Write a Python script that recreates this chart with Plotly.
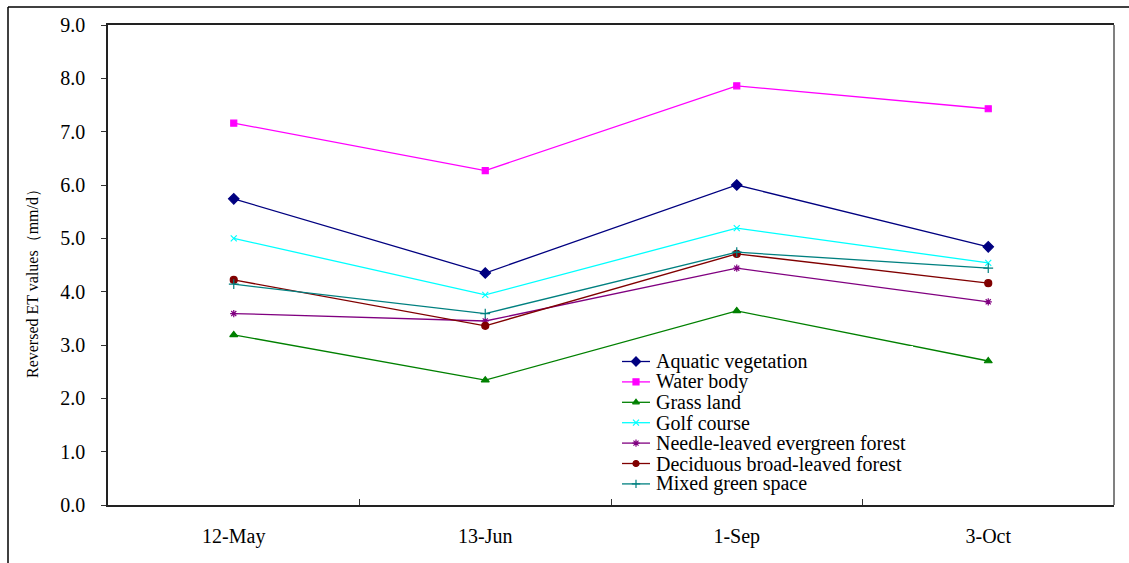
import plotly.graph_objects as go

dates = ["12-May", "13-Jun", "1-Sep", "3-Oct"]
aquatic = [5.74, 4.35, 6.00, 4.84]
water = [7.16, 6.27, 7.86, 7.43]
grass = [3.19, 2.34, 3.64, 2.70]
golf = [5.00, 3.94, 5.19, 4.54]
needle = [3.59, 3.45, 4.44, 3.81]
deciduous = [4.22, 3.36, 4.71, 4.16]
mixed = [4.14, 3.59, 4.74, 4.44]

series = [
    ("Aquatic vegetation", aquatic, "#000080", "diamond", 8),
    ("Water body", water, "#FF00FF", "square", 6),
    ("Grass land", grass, "#008000", "triangle-up", 7),
    ("Golf course", golf, "#00FFFF", "x-thin", 6),
    ("Needle-leaved evergreen forest", needle, "#800080", "asterisk", 6),
    ("Deciduous broad-leaved forest", deciduous, "#800000", "circle", 7),
    ("Mixed green space", mixed, "#008080", "cross-thin", 7),
]

# plot area in pixels
L, R, T, B = 108, 1114, 25, 505
W, H = R - L, B - T


def px(x):
    return (x - L) / W


def py(y):
    return (B - y) / H


fig = go.Figure()
for name, vals, color, sym, size in series:
    fig.add_trace(go.Scatter(
        x=dates, y=vals, name=name, mode="lines+markers", showlegend=False,
        line=dict(color=color, width=1.3),
        marker=dict(symbol=sym, size=size, color=color,
                    line=dict(color=color, width=1.2)),
    ))

font = "Liberation Serif, Times New Roman, serif"

# manual legend drawn on an overlay axis spanning the plot area
fig.add_trace(go.Scatter(
    x=[px(615), px(913), px(913), px(615), px(615)],
    y=[py(346), py(346), py(496), py(496), py(346)],
    xaxis="x2", yaxis="y2", mode="lines", fill="toself",
    fillcolor="white", line=dict(width=0, color="white"),
    showlegend=False, hoverinfo="skip",
))
annotations = []
for i, (name, vals, color, sym, size) in enumerate(series):
    ry = 361.5 + i * 20.4
    fig.add_trace(go.Scatter(
        x=[px(622), px(636), px(650)], y=[py(ry)] * 3,
        xaxis="x2", yaxis="y2", mode="lines", showlegend=False,
        line=dict(color=color, width=1.3), hoverinfo="skip",
    ))
    fig.add_trace(go.Scatter(
        x=[px(636)], y=[py(ry)],
        xaxis="x2", yaxis="y2", mode="markers", showlegend=False,
        marker=dict(symbol=sym, size=max(size - 1, 6), color=color,
                    line=dict(color=color, width=1.2)),
        hoverinfo="skip",
    ))
    annotations.append(dict(
        x=px(655), y=py(ry), xref="paper", yref="paper",
        text=name, showarrow=False, xanchor="left", yanchor="middle",
        font=dict(family=font, size=20, color="black"), borderpad=0,
    ))

annotations.append(dict(
    x=px(32), y=py(280), xref="paper", yref="paper",
    text="Reversed ET values（mm/d）", showarrow=False, textangle=-90,
    xanchor="center", yanchor="middle",
    font=dict(family=font, size=16, color="black"),
))

fig.update_layout(
    width=1129, height=563,
    margin=dict(l=L, r=1129 - R, t=T, b=563 - B),
    paper_bgcolor="white", plot_bgcolor="white",
    font=dict(family=font, size=20, color="black"),
    showlegend=False,
    annotations=annotations,
    xaxis=dict(
        type="category", showline=True, linecolor="#222222", linewidth=1.5,
        mirror=True, ticks="inside", ticklen=6, tickcolor="#333333",
        tickson="boundaries", showgrid=False, zeroline=False,
        ticklabelstandoff=12,
        tickfont=dict(family=font, size=20),
        range=[-0.5, 3.5],
    ),
    yaxis=dict(
        range=[0, 9], dtick=1, tickformat=".1f",
        showline=True, linecolor="#222222", linewidth=1.5, mirror=False,
        ticks="outside", ticklen=5, tickcolor="#333333",
        showgrid=False, zeroline=False, ticklabelstandoff=12,
        tickfont=dict(family=font, size=20),
    ),
    xaxis2=dict(overlaying="x", range=[0, 1], visible=False,
                fixedrange=True),
    yaxis2=dict(overlaying="y", range=[0, 1], visible=False,
                fixedrange=True),
    shapes=[
        dict(type="line", xref="paper", yref="paper",
             x0=px(8), x1=px(8), y0=py(600), y1=py(7),
             line=dict(color="black", width=1.5)),
        dict(type="line", xref="paper", yref="paper",
             x0=px(8), x1=px(1140), y0=py(7), y1=py(7),
             line=dict(color="black", width=1.5)),
        dict(type="line", xref="paper", yref="paper",
             x0=1, x1=1, y0=0, y1=1,
             line=dict(color="#808080", width=2)),
    ],
)

fig.write_html("out.html")
